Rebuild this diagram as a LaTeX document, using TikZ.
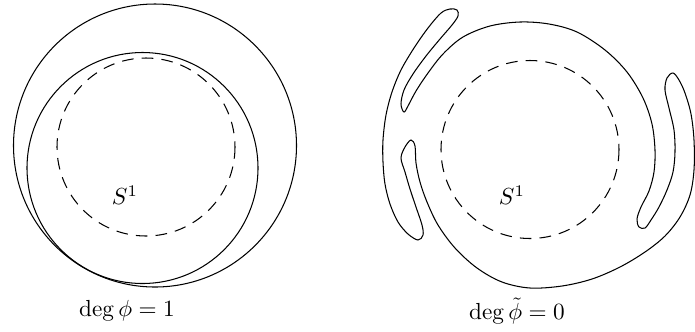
\documentclass[tikz,border=0pt]{standalone}
\begin{document}
\begin{tikzpicture}[x=0.43pt,y=-0.43pt,line width=0.45pt,
  dashcirc/.style={dash pattern=on 5pt off 3.5pt}]
\useasboundingbox (0,0) rectangle (695,331);
\draw (155,145.5) circle[radius=141.5];
\draw (142.5,168) circle[radius=115.5];
\draw[dashcirc] (146,147) circle[radius=89];
\node (sone) at (125,195) {$S^1$};
\node (degone) at (127,311) {$\deg\phi = 1$};
\draw[dashcirc] (530,149.5) circle[radius=89];
\draw plot[smooth cycle,tension=0.55] coordinates {
  (520,22) (490,26) (463,37) (443,54) (428,73) (416,91) (408,106) (404,112)
  (401,104) (404,90) (413,74) (426,56) (440,39) (452,25) (458,16) (457,10) (450,9) (441,13)
  (428,28) (414,48) (401,70) (392,92) (386,115) (383,140) (383,162) (385,184) (390,204)
  (398,222) (408,234) (418,240) (423,235) (422,225) (416,207) (410,189) (405,172) (401,158)
  (405,147) (411,140) (415,146) (416,163) (420,182) (427,202) (438,225) (455,248)
  (477,268) (502,282) (530,288) (562,286) (592,279) (620,267) (645,252) (665,236)
  (680,217) (690,195) (694,170) (694,140) (691,114) (685,93) (679,80) (673,73) (667,78) (665,90)
  (669,108) (674,130) (675,152) (673,172) (667,190) (659,207) (651,220) (645,228)
  (639,227) (637,219) (641,207) (649,191) (654,172) (655,150) (652,124) (643,98)
  (627,72) (605,50) (577,32) (549,24)};
\node (stwo) at (512,195) {$S^1$};
\node (degtwo) at (517,311) {$\deg\tilde\phi = 0$};
\end{tikzpicture}
\end{document}
